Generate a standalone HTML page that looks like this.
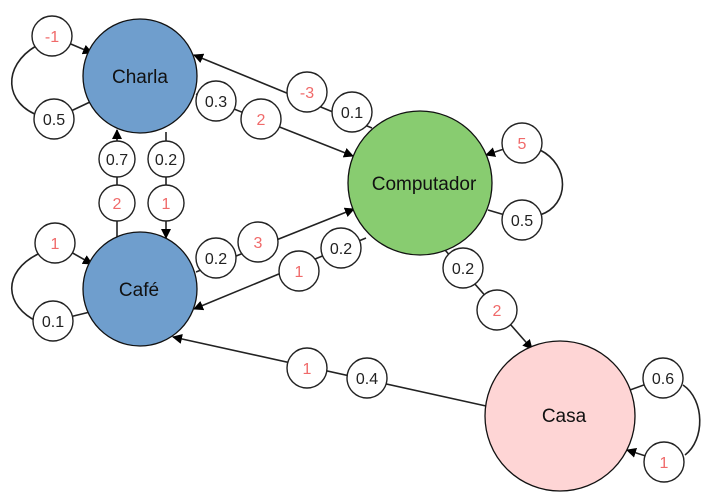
<!DOCTYPE html>
<html><head><meta charset="utf-8"><style>
html,body{margin:0;padding:0;background:#fff;width:716px;height:500px;overflow:hidden}
text{font-family:"Liberation Sans",sans-serif}
</style></head><body>
<svg width="716" height="500" viewBox="0 0 716 500" xmlns="http://www.w3.org/2000/svg">
<defs><marker id="a" markerWidth="10" markerHeight="10" refX="9" refY="5" orient="auto" markerUnits="userSpaceOnUse"><path d="M0,0 L10,5 L0,10 z" fill="#000"/></marker></defs>
<g stroke="#222" stroke-width="1.6" fill="none">
<line x1="52" y1="36" x2="92" y2="53" marker-end="url(#a)"/>
<path d="M36,46 C2,66 4,104 40,116"/>
<line x1="54" y1="119" x2="90" y2="102"/>
<line x1="55" y1="243" x2="92" y2="264" marker-end="url(#a)"/>
<path d="M38,254 C2,272 4,306 38,322"/>
<line x1="53" y1="321" x2="90" y2="312"/>
<line x1="117" y1="238" x2="117" y2="130" marker-end="url(#a)"/>
<line x1="166" y1="132" x2="166" y2="238" marker-end="url(#a)"/>
<line x1="372" y1="128" x2="194" y2="55" marker-end="url(#a)"/>
<line x1="196" y1="94" x2="353" y2="156" marker-end="url(#a)"/>
<line x1="196" y1="272" x2="354" y2="209" marker-end="url(#a)"/>
<line x1="366" y1="238" x2="194" y2="309" marker-end="url(#a)"/>
<line x1="522" y1="143" x2="486" y2="155" marker-end="url(#a)"/>
<path d="M540,150 C570,165 570,205 540,215"/>
<line x1="522" y1="220" x2="488" y2="210"/>
<line x1="445" y1="250" x2="532" y2="349" marker-end="url(#a)"/>
<line x1="486" y1="406" x2="173" y2="337" marker-end="url(#a)"/>
<line x1="663" y1="378" x2="630" y2="390"/>
<path d="M683,385 C705,400 705,440 685,455"/>
<line x1="664" y1="462" x2="627" y2="450" marker-end="url(#a)"/>
</g>
<g stroke="#111" stroke-width="1.3">
<circle cx="140" cy="76" r="57" fill="#6f9ecd"/>
<circle cx="140" cy="289" r="57" fill="#6f9ecd"/>
<circle cx="420" cy="183" r="72" fill="#88cc70"/>
<circle cx="560" cy="416" r="75" fill="#fed5d5"/>
</g>
<g font-size="19" text-anchor="middle" fill="#111">
<text x="140" y="83">Charla</text>
<text x="139" y="296">Café</text>
<text x="424" y="190">Computador</text>
<text x="564" y="422">Casa</text>
</g>
<g stroke="#222" stroke-width="1.4" fill="#fff">
<circle cx="52" cy="36" r="20"/><circle cx="54" cy="119" r="20"/>
<circle cx="117" cy="159" r="18"/><circle cx="117" cy="203" r="18"/>
<circle cx="166" cy="159" r="18"/><circle cx="166" cy="203" r="18"/>
<circle cx="55" cy="243" r="20"/><circle cx="53" cy="321" r="20"/>
<circle cx="216" cy="101" r="20"/><circle cx="261" cy="119" r="20"/>
<circle cx="307" cy="92" r="20"/><circle cx="352" cy="112" r="20"/>
<circle cx="216" cy="258" r="20"/><circle cx="258" cy="242" r="20"/>
<circle cx="341" cy="248" r="20"/><circle cx="299" cy="271" r="20"/>
<circle cx="522" cy="143" r="20"/><circle cx="522" cy="220" r="20"/>
<circle cx="463" cy="268" r="20"/><circle cx="497" cy="310" r="20"/>
<circle cx="307" cy="368" r="20"/><circle cx="367" cy="378" r="20"/>
<circle cx="663" cy="378" r="20"/><circle cx="664" cy="462" r="20"/>
</g>
<g font-size="16" text-anchor="middle">
<g fill="#f06a6a">
<text x="52" y="42">-1</text><text x="117" y="209">2</text><text x="166" y="209">1</text>
<text x="55" y="249">1</text><text x="261" y="125">2</text><text x="307" y="98">-3</text>
<text x="258" y="248">3</text><text x="299" y="277">1</text><text x="522" y="149">5</text>
<text x="497" y="316">2</text><text x="307" y="374">1</text><text x="664" y="468">1</text>
</g>
<g fill="#222">
<text x="54" y="125">0.5</text><text x="117" y="165">0.7</text><text x="166" y="165">0.2</text>
<text x="53" y="327">0.1</text><text x="216" y="107">0.3</text><text x="352" y="118">0.1</text>
<text x="216" y="264">0.2</text><text x="341" y="254">0.2</text><text x="522" y="226">0.5</text>
<text x="463" y="274">0.2</text><text x="367" y="384">0.4</text><text x="663" y="384">0.6</text>
</g>
</g>
</svg>
</body></html>
